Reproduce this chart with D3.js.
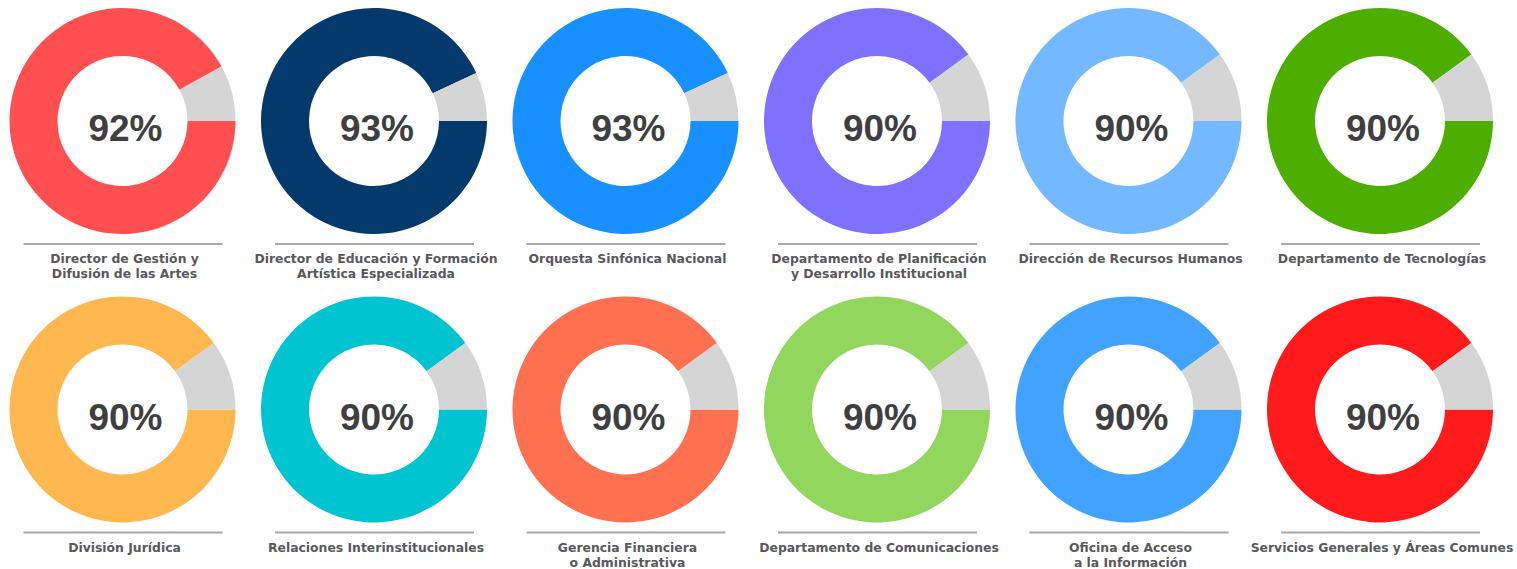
<!DOCTYPE html>
<html>
<head>
  <meta charset="utf-8">
  <title>Cumplimiento por departamento</title>
  <script src="https://d3js.org/d3.v7.min.js"></script>
  <style>
    html, body {
      margin: 0;
      padding: 0;
      background: #fff;
    }
    .pct {
      font-family: "Liberation Sans", Arial, sans-serif;
      font-weight: bold;
      fill: #3f3f42;
    }
    .label {
      font-family: "DejaVu Sans", Verdana, sans-serif;
      font-weight: bold;
      font-size: 12.4px;
      fill: #58585b;
    }
  </style>
</head>
<body>
  <div id="chart"></div>
  <script>
    // Departments (line breaks as in the original labels)
    const departments = [
      "Director de Gestión y\nDifusión de las Artes",
      "Director de Educación y Formación\nArtística Especializada",
      "Orquesta Sinfónica Nacional",
      "Departamento de Planificación\ny Desarrollo Institucional",
      "Dirección de Recursos Humanos",
      "Departamento de Tecnologías",
      "División Jurídica",
      "Relaciones Interinstitucionales",
      "Gerencia Financiera\no Administrativa",
      "Departamento de Comunicaciones",
      "Oficina de Acceso\na la Información",
      "Servicios Generales y Áreas Comunes"
    ];

    // Percentage achieved
    const values = [92, 93, 93, 90, 90, 90, 90, 90, 90, 90, 90, 90];

    const colors = [
      "#ff4f50", "#04396c", "#1890ff", "#7f70fe", "#74b9ff", "#4caf00",
      "#ffb74f", "#00c4cf", "#ff7150", "#92d65e", "#42a2ff", "#ff1a1c"
    ];

    const restColor = "#d5d5d5";

    const width = 1517;
    const height = 569;
    const perRow = 6;
    const outerR = 113;
    const innerR = 65;

    const svg = d3.select("#chart")
      .append("svg")
      .attr("width", width)
      .attr("height", height);

    const xPos = d3.scalePoint()
      .domain(d3.range(perRow))
      .range([122.5, 1380]);

    const yPos = d3.scalePoint()
      .domain([0, 1])
      .range([121, 409.5]);

    const pie = d3.pie()
      .sort(null)
      .startAngle(Math.PI / 2)
      .endAngle(Math.PI / 2 + 2 * Math.PI);

    const arc = d3.arc()
      .innerRadius(innerR)
      .outerRadius(outerR);

    const cells = svg.selectAll("g.cell")
      .data(departments.map((name, i) => ({ name, value: values[i], color: colors[i], i })))
      .enter().append("g")
      .attr("class", "cell")
      .attr("transform", d => `translate(${xPos(d.i % perRow)},${yPos(Math.floor(d.i / perRow))})`);

    // donut slices
    cells.each(function(d) {
      const g = d3.select(this);
      g.selectAll("path")
        .data(pie([d.value, 100 - d.value]))
        .enter().append("path")
        .attr("d", arc)
        .attr("fill", (s, k) => k === 0 ? d.color : restColor);
    });

    // percentage in the middle
    cells.append("text")
      .attr("class", "pct")
      .attr("text-anchor", "middle")
      .attr("x", 3)
      .attr("y", 20)
      .style("font-size", "37px")
      .text(d => d.value + "%");

    // separator line
    cells.append("line")
      .attr("x1", -99)
      .attr("x2", 100)
      .attr("y1", outerR + 10)
      .attr("y2", outerR + 10)
      .attr("stroke", "#a8a8a8")
      .attr("stroke-width", 2);

    // department label
    const label = cells.append("text")
      .attr("class", "label")
      .attr("text-anchor", "middle")
      .attr("y", outerR + 29);

    label.selectAll("tspan")
      .data(d => d.name.split("\n"))
      .enter().append("tspan")
      .attr("x", 2)
      .attr("dy", (t, k) => k === 0 ? 0 : 15)
      .text(t => t);
  </script>
</body>
</html>
